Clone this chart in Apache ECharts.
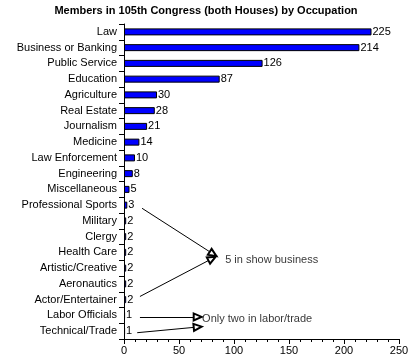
<!DOCTYPE html>
<html><head><meta charset="utf-8">
<script src="https://cdn.jsdelivr.net/npm/echarts@6/dist/echarts.min.js"></script>
<style>html,body{margin:0;padding:0;background:#fff}#c{width:412px;height:364px}</style>
</head><body><div id="c"></div>
<script>
const categories = ['Law','Business or Banking','Public Service','Education','Agriculture','Real Estate','Journalism','Medicine','Law Enforcement','Engineering','Miscellaneous','Professional Sports','Military','Clergy','Health Care','Artistic/Creative','Aeronautics','Actor/Entertainer','Labor Officials','Technical/Trade'];
const values = [225,214,126,87,30,28,21,14,10,8,5,3,2,2,2,2,2,2,1,1];
const xTicks = [0,50,100,150,200,250];
const titleText = 'Members in 105th Congress (both Houses) by Occupation';
// annotations in data space: [x, categoryPosition]
const showArrows = [[[16.4,11.2],[81,14.1]], [[14.5,16.8],[80,14.4]]];
const showText = {pos:[92,14.5], text:'5 in show business'};
const laborArrows = [[[14.5,18.1],[67,18.1]], [[12,19.1],[67,18.74]]];
const laborText = {pos:[71,18.2], text:'Only two in labor/trade'};

const font = 'Liberation Sans, Arial, sans-serif';
const chart = echarts.init(document.getElementById('c'));
const arrowLines = showArrows.concat(laborArrows).map(a => [{coord:a[0]},{coord:a[1]}]);
chart.setOption({
  animation:false,
  title:{text:titleText,left:'center',top:0,textStyle:{fontFamily:font,fontSize:11,fontWeight:'bold',color:'#000'}},
  grid:{left:124,right:13,top:24,bottom:25},
  xAxis:{type:'value',min:xTicks[0],max:xTicks[xTicks.length-1],interval:50,
    axisLine:{show:true,onZero:false,lineStyle:{color:'#000'}},
    axisTick:{show:true,length:5,lineStyle:{color:'#000'}},
    minorTick:{show:true,splitNumber:5,length:3,lineStyle:{color:'#000'}},
    splitLine:{show:false},
    axisLabel:{fontFamily:font,fontSize:11,color:'#000',margin:6}},
  yAxis:[{type:'category',data:categories,inverse:true,
    axisLine:{show:true,lineStyle:{color:'#000'}},
    axisTick:{show:true,length:5,alignWithLabel:false,lineStyle:{color:'#000'}},
    axisLabel:{fontFamily:font,fontSize:11,color:'#000',margin:7}},
    {type:'value',min:-0.5,max:19.5,inverse:true,show:false}],
  series:[{type:'bar',data:values,barWidth:7,
    itemStyle:{color:'#0000ff',borderColor:'#000',borderWidth:1},
    label:{show:true,position:'right',distance:1,fontFamily:font,fontSize:11,color:'#000'}},
   {type:'scatter',xAxisIndex:0,yAxisIndex:1,symbolSize:0,silent:true,
    data:[showText.pos.concat([showText.text]), laborText.pos.concat([laborText.text])],
    label:{show:true,position:'right',distance:0,fontFamily:font,fontSize:11,color:'#000',formatter:p=>p.value[2]},
    markLine:{silent:true,symbol:['none','emptyTriangle'],symbolSize:[7,8],
      lineStyle:{color:'#000',width:1,type:'solid'},label:{show:false},
      data:arrowLines}}]
});
</script></body></html>
